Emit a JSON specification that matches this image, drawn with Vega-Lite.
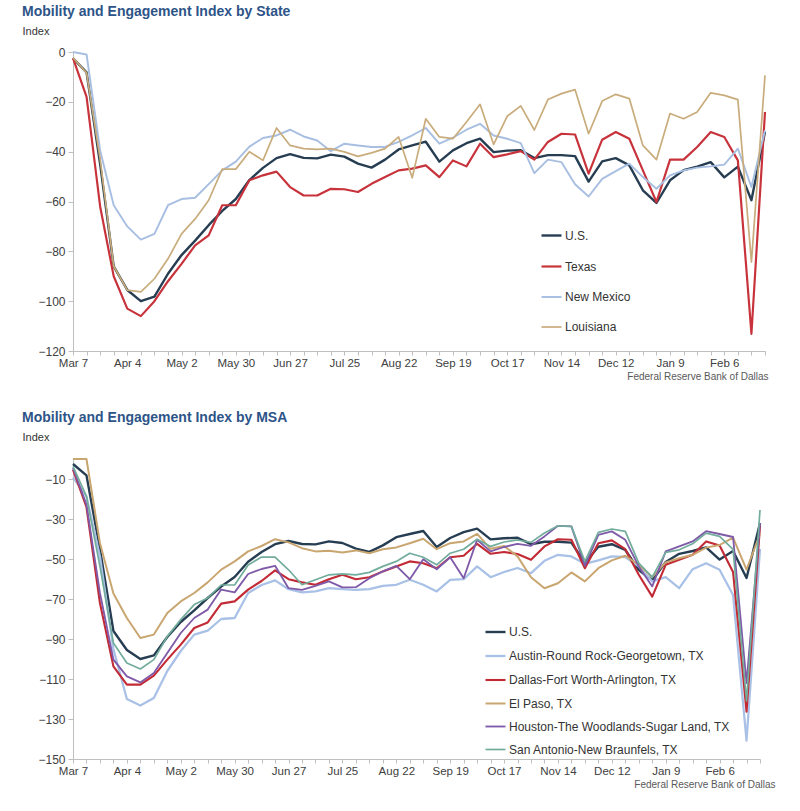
{
  "$schema": "https://vega.github.io/schema/vega-lite/v6.json",
  "background": "white",
  "padding": {"left": 22, "top": 5, "right": 5, "bottom": 5},
  "spacing": 29,
  "config": {
    "view": {"stroke": null},
    "font": "Liberation Sans",
    "axis": {
      "grid": false,
      "domainColor": "#BFBFBF",
      "tickColor": "#BFBFBF",
      "labelColor": "#404040",
      "labelFont": "Liberation Sans",
      "labelFontSize": 11.5,
      "titleFont": "Liberation Sans",
      "titleFontWeight": "normal"
    },
    "title": {"font": "Liberation Sans", "fontSize": 14, "fontWeight": "bold", "color": "#2D5488", "anchor": "start", "frame": "bounds", "offset": 6}
  },
  "resolve": {"scale": {"x": "independent", "y": "independent", "color": "independent", "strokeWidth": "independent"}, "legend": {"color": "independent"}},
  "datasets": {
    "state": [
      {"date": "2020-03-07", "US": -2.5, "Texas": -2.5, "New Mexico": 0, "Louisiana": -2.3},
      {"date": "2020-03-14", "US": -8.2, "Texas": -18, "New Mexico": -1, "Louisiana": -8.4},
      {"date": "2020-03-21", "US": -45, "Texas": -62, "New Mexico": -39.5, "Louisiana": -43},
      {"date": "2020-03-28", "US": -86, "Texas": -90, "New Mexico": -61.5, "Louisiana": -86},
      {"date": "2020-04-04", "US": -95.5, "Texas": -103, "New Mexico": -70, "Louisiana": -95.6},
      {"date": "2020-04-11", "US": -100, "Texas": -106, "New Mexico": -75.3, "Louisiana": -96.3},
      {"date": "2020-04-18", "US": -98.2, "Texas": -100, "New Mexico": -73, "Louisiana": -91},
      {"date": "2020-04-25", "US": -89, "Texas": -92, "New Mexico": -61.5, "Louisiana": -83},
      {"date": "2020-05-02", "US": -81.5, "Texas": -85, "New Mexico": -59, "Louisiana": -73},
      {"date": "2020-05-09", "US": -75.7, "Texas": -77.6, "New Mexico": -58.5, "Louisiana": -67},
      {"date": "2020-05-16", "US": -69.5, "Texas": -73.6, "New Mexico": -53, "Louisiana": -59.5},
      {"date": "2020-05-23", "US": -63.8, "Texas": -61.5, "New Mexico": -47.5, "Louisiana": -47},
      {"date": "2020-05-30", "US": -59, "Texas": -61.5, "New Mexico": -44, "Louisiana": -47},
      {"date": "2020-06-06", "US": -51.4, "Texas": -51.5, "New Mexico": -38, "Louisiana": -40},
      {"date": "2020-06-13", "US": -46.5, "Texas": -49.5, "New Mexico": -34.5, "Louisiana": -43.5},
      {"date": "2020-06-20", "US": -42.6, "Texas": -48, "New Mexico": -33.5, "Louisiana": -30.5},
      {"date": "2020-06-27", "US": -41, "Texas": -54.2, "New Mexico": -31.2, "Louisiana": -37.5},
      {"date": "2020-07-04", "US": -42.5, "Texas": -57.6, "New Mexico": -33.9, "Louisiana": -38.8},
      {"date": "2020-07-11", "US": -42.7, "Texas": -57.6, "New Mexico": -35.5, "Louisiana": -39.1},
      {"date": "2020-07-18", "US": -41.2, "Texas": -54.9, "New Mexico": -39.8, "Louisiana": -38.8},
      {"date": "2020-07-25", "US": -42, "Texas": -55.1, "New Mexico": -36.8, "Louisiana": -40.1},
      {"date": "2020-08-01", "US": -44.8, "Texas": -56.2, "New Mexico": -37.5, "Louisiana": -41.9},
      {"date": "2020-08-08", "US": -46.4, "Texas": -52.9, "New Mexico": -38.1, "Louisiana": -40.5},
      {"date": "2020-08-15", "US": -43.2, "Texas": -50.2, "New Mexico": -38.1, "Louisiana": -38.8},
      {"date": "2020-08-22", "US": -39.1, "Texas": -47.5, "New Mexico": -36.1, "Louisiana": -34.1},
      {"date": "2020-08-29", "US": -37.5, "Texas": -46.8, "New Mexico": -33.5, "Louisiana": -50.5},
      {"date": "2020-09-05", "US": -36, "Texas": -45.5, "New Mexico": -30.5, "Louisiana": -26.8},
      {"date": "2020-09-12", "US": -44, "Texas": -50.2, "New Mexico": -36.8, "Louisiana": -34.1},
      {"date": "2020-09-19", "US": -39.5, "Texas": -43.5, "New Mexico": -34.4, "Louisiana": -34.8},
      {"date": "2020-09-26", "US": -36.6, "Texas": -45.9, "New Mexico": -31.2, "Louisiana": -28.1},
      {"date": "2020-10-03", "US": -34.8, "Texas": -36.8, "New Mexico": -28.8, "Louisiana": -21},
      {"date": "2020-10-10", "US": -40.2, "Texas": -42.2, "New Mexico": -33.5, "Louisiana": -37.1},
      {"date": "2020-10-17", "US": -39.6, "Texas": -41.1, "New Mexico": -34.8, "Louisiana": -25.8},
      {"date": "2020-10-24", "US": -39.4, "Texas": -39.8, "New Mexico": -36.6, "Louisiana": -21.6},
      {"date": "2020-10-31", "US": -42.6, "Texas": -43.2, "New Mexico": -48.6, "Louisiana": -31.3},
      {"date": "2020-11-07", "US": -41.4, "Texas": -36.1, "New Mexico": -43.2, "Louisiana": -19.1},
      {"date": "2020-11-14", "US": -41.4, "Texas": -32.8, "New Mexico": -44.2, "Louisiana": -16.7},
      {"date": "2020-11-21", "US": -41.8, "Texas": -33.1, "New Mexico": -53.1, "Louisiana": -15.1},
      {"date": "2020-11-28", "US": -52, "Texas": -48.8, "New Mexico": -58, "Louisiana": -32.8},
      {"date": "2020-12-05", "US": -43.9, "Texas": -35.2, "New Mexico": -50.9, "Louisiana": -19.7},
      {"date": "2020-12-12", "US": -42.6, "Texas": -32.1, "New Mexico": -47.8, "Louisiana": -17},
      {"date": "2020-12-19", "US": -45.5, "Texas": -34.8, "New Mexico": -44.8, "Louisiana": -18.7},
      {"date": "2020-12-26", "US": -55.5, "Texas": -47.5, "New Mexico": -50.2, "Louisiana": -37.5},
      {"date": "2021-01-02", "US": -60.6, "Texas": -60.2, "New Mexico": -54.9, "Louisiana": -43.2},
      {"date": "2021-01-09", "US": -51.5, "Texas": -43.2, "New Mexico": -49.5, "Louisiana": -24.7},
      {"date": "2021-01-16", "US": -47.4, "Texas": -43.2, "New Mexico": -47.5, "Louisiana": -26.8},
      {"date": "2021-01-23", "US": -46, "Texas": -38.1, "New Mexico": -46.4, "Louisiana": -24.1},
      {"date": "2021-01-30", "US": -44.2, "Texas": -32.1, "New Mexico": -45.9, "Louisiana": -16.4},
      {"date": "2021-02-06", "US": -50.3, "Texas": -34.1, "New Mexico": -45.2, "Louisiana": -17.4},
      {"date": "2021-02-13", "US": -46, "Texas": -43.5, "New Mexico": -38.8, "Louisiana": -19.1},
      {"date": "2021-02-20", "US": -59.5, "Texas": -113.1, "New Mexico": -54.2, "Louisiana": -84.3},
      {"date": "2021-02-27", "US": -32, "Texas": -24.1, "New Mexico": -31.4, "Louisiana": -9.4}
    ],
    "msa": [
      {"date": "2020-03-07", "US": -2.5, "Austin-Round Rock-Georgetown, TX": -9.2, "Dallas-Fort Worth-Arlington, TX": -5.3, "El Paso, TX": 0, "Houston-The Woodlands-Sugar Land, TX": -4.5, "San Antonio-New Braunfels, TX": -3.7},
      {"date": "2020-03-14", "US": -8.2, "Austin-Round Rock-Georgetown, TX": -18.7, "Dallas-Fort Worth-Arlington, TX": -24, "El Paso, TX": 0, "Houston-The Woodlands-Sugar Land, TX": -22.8, "San Antonio-New Braunfels, TX": -18.7},
      {"date": "2020-03-21", "US": -45, "Austin-Round Rock-Georgetown, TX": -48.7, "Dallas-Fort Worth-Arlington, TX": -72, "El Paso, TX": -42, "Houston-The Woodlands-Sugar Land, TX": -67, "San Antonio-New Braunfels, TX": -53.7},
      {"date": "2020-03-28", "US": -86, "Austin-Round Rock-Georgetown, TX": -95, "Dallas-Fort Worth-Arlington, TX": -103.7, "El Paso, TX": -67.3, "Houston-The Woodlands-Sugar Land, TX": -100.3, "San Antonio-New Braunfels, TX": -92},
      {"date": "2020-04-04", "US": -95.5, "Austin-Round Rock-Georgetown, TX": -120, "Dallas-Fort Worth-Arlington, TX": -112.8, "El Paso, TX": -79.5, "Houston-The Woodlands-Sugar Land, TX": -108.7, "San Antonio-New Braunfels, TX": -102},
      {"date": "2020-04-11", "US": -100, "Austin-Round Rock-Georgetown, TX": -123.3, "Dallas-Fort Worth-Arlington, TX": -112.8, "El Paso, TX": -89.5, "Houston-The Woodlands-Sugar Land, TX": -111.7, "San Antonio-New Braunfels, TX": -105},
      {"date": "2020-04-18", "US": -98.2, "Austin-Round Rock-Georgetown, TX": -119.5, "Dallas-Fort Worth-Arlington, TX": -108.3, "El Paso, TX": -87.8, "Houston-The Woodlands-Sugar Land, TX": -107, "San Antonio-New Braunfels, TX": -100.3},
      {"date": "2020-04-25", "US": -89, "Austin-Round Rock-Georgetown, TX": -106, "Dallas-Fort Worth-Arlington, TX": -100.3, "El Paso, TX": -77, "Houston-The Woodlands-Sugar Land, TX": -97, "San Antonio-New Braunfels, TX": -88.7},
      {"date": "2020-05-02", "US": -81.5, "Austin-Round Rock-Georgetown, TX": -96, "Dallas-Fort Worth-Arlington, TX": -92.8, "El Paso, TX": -71.2, "Houston-The Woodlands-Sugar Land, TX": -87, "San Antonio-New Braunfels, TX": -80.3},
      {"date": "2020-05-09", "US": -75.7, "Austin-Round Rock-Georgetown, TX": -87.8, "Dallas-Fort Worth-Arlington, TX": -84.5, "El Paso, TX": -67, "Houston-The Woodlands-Sugar Land, TX": -79.5, "San Antonio-New Braunfels, TX": -72.8},
      {"date": "2020-05-16", "US": -69.5, "Austin-Round Rock-Georgetown, TX": -85.8, "Dallas-Fort Worth-Arlington, TX": -81.7, "El Paso, TX": -61.7, "Houston-The Woodlands-Sugar Land, TX": -75.3, "San Antonio-New Braunfels, TX": -69.5},
      {"date": "2020-05-23", "US": -63.8, "Austin-Round Rock-Georgetown, TX": -80, "Dallas-Fort Worth-Arlington, TX": -72.3, "El Paso, TX": -55.3, "Houston-The Woodlands-Sugar Land, TX": -65.3, "San Antonio-New Braunfels, TX": -63},
      {"date": "2020-05-30", "US": -59, "Austin-Round Rock-Georgetown, TX": -79.5, "Dallas-Fort Worth-Arlington, TX": -71.2, "El Paso, TX": -51.2, "Houston-The Woodlands-Sugar Land, TX": -66.7, "San Antonio-New Braunfels, TX": -63},
      {"date": "2020-06-06", "US": -51.4, "Austin-Round Rock-Georgetown, TX": -67, "Dallas-Fort Worth-Arlington, TX": -65.3, "El Paso, TX": -46.2, "Houston-The Woodlands-Sugar Land, TX": -57.5, "San Antonio-New Braunfels, TX": -53},
      {"date": "2020-06-13", "US": -46.5, "Austin-Round Rock-Georgetown, TX": -63, "Dallas-Fort Worth-Arlington, TX": -61, "El Paso, TX": -43.5, "Houston-The Woodlands-Sugar Land, TX": -55, "San Antonio-New Braunfels, TX": -49},
      {"date": "2020-06-20", "US": -42.6, "Austin-Round Rock-Georgetown, TX": -60.7, "Dallas-Fort Worth-Arlington, TX": -55.7, "El Paso, TX": -40.1, "Houston-The Woodlands-Sugar Land, TX": -53.4, "San Antonio-New Braunfels, TX": -49.1},
      {"date": "2020-06-27", "US": -41, "Austin-Round Rock-Georgetown, TX": -65.1, "Dallas-Fort Worth-Arlington, TX": -60.1, "El Paso, TX": -41.7, "Houston-The Woodlands-Sugar Land, TX": -64.6, "San Antonio-New Braunfels, TX": -55.4},
      {"date": "2020-07-04", "US": -42.5, "Austin-Round Rock-Georgetown, TX": -66.7, "Dallas-Fort Worth-Arlington, TX": -61.7, "El Paso, TX": -44.6, "Houston-The Woodlands-Sugar Land, TX": -65.4, "San Antonio-New Braunfels, TX": -62.9},
      {"date": "2020-07-11", "US": -42.7, "Austin-Round Rock-Georgetown, TX": -66.2, "Dallas-Fort Worth-Arlington, TX": -62.9, "El Paso, TX": -46.2, "Houston-The Woodlands-Sugar Land, TX": -63.4, "San Antonio-New Braunfels, TX": -60.4},
      {"date": "2020-07-18", "US": -41.2, "Austin-Round Rock-Georgetown, TX": -64.6, "Dallas-Fort Worth-Arlington, TX": -60.1, "El Paso, TX": -45.9, "Houston-The Woodlands-Sugar Land, TX": -61.2, "San Antonio-New Braunfels, TX": -57.9},
      {"date": "2020-07-25", "US": -42, "Austin-Round Rock-Georgetown, TX": -65.1, "Dallas-Fort Worth-Arlington, TX": -57.9, "El Paso, TX": -46.7, "Houston-The Woodlands-Sugar Land, TX": -64.2, "San Antonio-New Braunfels, TX": -57.4},
      {"date": "2020-08-01", "US": -44.8, "Austin-Round Rock-Georgetown, TX": -65.4, "Dallas-Fort Worth-Arlington, TX": -60.1, "El Paso, TX": -45.7, "Houston-The Woodlands-Sugar Land, TX": -64.1, "San Antonio-New Braunfels, TX": -57.9},
      {"date": "2020-08-08", "US": -46.4, "Austin-Round Rock-Georgetown, TX": -65.1, "Dallas-Fort Worth-Arlington, TX": -59.1, "El Paso, TX": -47.1, "Houston-The Woodlands-Sugar Land, TX": -59.6, "San Antonio-New Braunfels, TX": -56.7},
      {"date": "2020-08-15", "US": -43.2, "Austin-Round Rock-Georgetown, TX": -63.4, "Dallas-Fort Worth-Arlington, TX": -56.2, "El Paso, TX": -45.1, "Houston-The Woodlands-Sugar Land, TX": -56.2, "San Antonio-New Braunfels, TX": -53.7},
      {"date": "2020-08-22", "US": -39.1, "Austin-Round Rock-Georgetown, TX": -62.9, "Dallas-Fort Worth-Arlington, TX": -53.7, "El Paso, TX": -44.2, "Houston-The Woodlands-Sugar Land, TX": -53.4, "San Antonio-New Braunfels, TX": -51.2},
      {"date": "2020-08-29", "US": -37.5, "Austin-Round Rock-Georgetown, TX": -60.4, "Dallas-Fort Worth-Arlington, TX": -51.2, "El Paso, TX": -42.1, "Houston-The Woodlands-Sugar Land, TX": -60.1, "San Antonio-New Braunfels, TX": -47.1},
      {"date": "2020-09-05", "US": -36, "Austin-Round Rock-Georgetown, TX": -62.9, "Dallas-Fort Worth-Arlington, TX": -52.1, "El Paso, TX": -39.9, "Houston-The Woodlands-Sugar Land, TX": -50.1, "San Antonio-New Braunfels, TX": -49.1},
      {"date": "2020-09-12", "US": -44, "Austin-Round Rock-Georgetown, TX": -66.2, "Dallas-Fort Worth-Arlington, TX": -54.6, "El Paso, TX": -45.1, "Houston-The Woodlands-Sugar Land, TX": -55.1, "San Antonio-New Braunfels, TX": -52.9},
      {"date": "2020-09-19", "US": -39.5, "Austin-Round Rock-Georgetown, TX": -60.4, "Dallas-Fort Worth-Arlington, TX": -49.1, "El Paso, TX": -42.1, "Houston-The Woodlands-Sugar Land, TX": -49.1, "San Antonio-New Braunfels, TX": -47.1},
      {"date": "2020-09-26", "US": -36.6, "Austin-Round Rock-Georgetown, TX": -60.1, "Dallas-Fort Worth-Arlington, TX": -48.4, "El Paso, TX": -41.2, "Houston-The Woodlands-Sugar Land, TX": -59.6, "San Antonio-New Braunfels, TX": -45.1},
      {"date": "2020-10-03", "US": -34.8, "Austin-Round Rock-Georgetown, TX": -53.7, "Dallas-Fort Worth-Arlington, TX": -42.4, "El Paso, TX": -37.4, "Houston-The Woodlands-Sugar Land, TX": -40.4, "San Antonio-New Braunfels, TX": -40.1},
      {"date": "2020-10-10", "US": -40.2, "Austin-Round Rock-Georgetown, TX": -59.1, "Dallas-Fort Worth-Arlington, TX": -47.4, "El Paso, TX": -44.9, "Houston-The Woodlands-Sugar Land, TX": -46.2, "San Antonio-New Braunfels, TX": -43.7},
      {"date": "2020-10-17", "US": -39.6, "Austin-Round Rock-Georgetown, TX": -56.5, "Dallas-Fort Worth-Arlington, TX": -46.5, "El Paso, TX": -43.5, "Houston-The Woodlands-Sugar Land, TX": -44, "San Antonio-New Braunfels, TX": -41.5},
      {"date": "2020-10-24", "US": -39.4, "Austin-Round Rock-Georgetown, TX": -54.5, "Dallas-Fort Worth-Arlington, TX": -47.5, "El Paso, TX": -48.7, "Houston-The Woodlands-Sugar Land, TX": -42.4, "San Antonio-New Braunfels, TX": -40.5},
      {"date": "2020-10-31", "US": -42.6, "Austin-Round Rock-Georgetown, TX": -57.1, "Dallas-Fort Worth-Arlington, TX": -50.4, "El Paso, TX": -59.1, "Houston-The Woodlands-Sugar Land, TX": -43.4, "San Antonio-New Braunfels, TX": -41.7},
      {"date": "2020-11-07", "US": -41.4, "Austin-Round Rock-Georgetown, TX": -50.9, "Dallas-Fort Worth-Arlington, TX": -43.7, "El Paso, TX": -64.6, "Houston-The Woodlands-Sugar Land, TX": -38.7, "San Antonio-New Braunfels, TX": -37},
      {"date": "2020-11-14", "US": -41.4, "Austin-Round Rock-Georgetown, TX": -47.9, "Dallas-Fort Worth-Arlington, TX": -40.1, "El Paso, TX": -62.1, "Houston-The Woodlands-Sugar Land, TX": -33.4, "San Antonio-New Braunfels, TX": -33.4},
      {"date": "2020-11-21", "US": -41.8, "Austin-Round Rock-Georgetown, TX": -48.7, "Dallas-Fort Worth-Arlington, TX": -40.4, "El Paso, TX": -56.7, "Houston-The Woodlands-Sugar Land, TX": -33.7, "San Antonio-New Braunfels, TX": -33.7},
      {"date": "2020-11-28", "US": -52, "Austin-Round Rock-Georgetown, TX": -52.4, "Dallas-Fort Worth-Arlington, TX": -54.6, "El Paso, TX": -61.2, "Houston-The Woodlands-Sugar Land, TX": -53.4, "San Antonio-New Braunfels, TX": -51.2},
      {"date": "2020-12-05", "US": -43.9, "Austin-Round Rock-Georgetown, TX": -50.7, "Dallas-Fort Worth-Arlington, TX": -42.1, "El Paso, TX": -54.6, "Houston-The Woodlands-Sugar Land, TX": -37.9, "San Antonio-New Braunfels, TX": -36.7},
      {"date": "2020-12-12", "US": -42.6, "Austin-Round Rock-Georgetown, TX": -48.7, "Dallas-Fort Worth-Arlington, TX": -40.7, "El Paso, TX": -50.7, "Houston-The Woodlands-Sugar Land, TX": -36.2, "San Antonio-New Braunfels, TX": -35},
      {"date": "2020-12-19", "US": -45.5, "Austin-Round Rock-Georgetown, TX": -49, "Dallas-Fort Worth-Arlington, TX": -45.1, "El Paso, TX": -48.4, "Houston-The Woodlands-Sugar Land, TX": -40.4, "San Antonio-New Braunfels, TX": -36.2},
      {"date": "2020-12-26", "US": -55.5, "Austin-Round Rock-Georgetown, TX": -53.7, "Dallas-Fort Worth-Arlington, TX": -57.9, "El Paso, TX": -52.9, "Houston-The Woodlands-Sugar Land, TX": -53.7, "San Antonio-New Braunfels, TX": -52.1},
      {"date": "2021-01-02", "US": -60.6, "Austin-Round Rock-Georgetown, TX": -61.2, "Dallas-Fort Worth-Arlington, TX": -68.8, "El Paso, TX": -59.1, "Houston-The Woodlands-Sugar Land, TX": -63.7, "San Antonio-New Braunfels, TX": -59.1},
      {"date": "2021-01-09", "US": -51.5, "Austin-Round Rock-Georgetown, TX": -59.1, "Dallas-Fort Worth-Arlington, TX": -52.9, "El Paso, TX": -51.7, "Houston-The Woodlands-Sugar Land, TX": -46.2, "San Antonio-New Braunfels, TX": -46.7},
      {"date": "2021-01-16", "US": -47.4, "Austin-Round Rock-Georgetown, TX": -64.6, "Dallas-Fort Worth-Arlington, TX": -50.4, "El Paso, TX": -49.6, "Houston-The Woodlands-Sugar Land, TX": -43.7, "San Antonio-New Braunfels, TX": -45.4},
      {"date": "2021-01-23", "US": -46, "Austin-Round Rock-Georgetown, TX": -55.1, "Dallas-Fort Worth-Arlington, TX": -47.9, "El Paso, TX": -47.9, "Houston-The Woodlands-Sugar Land, TX": -41.2, "San Antonio-New Braunfels, TX": -42.4},
      {"date": "2021-01-30", "US": -44.2, "Austin-Round Rock-Georgetown, TX": -52.1, "Dallas-Fort Worth-Arlington, TX": -41.2, "El Paso, TX": -44.3, "Houston-The Woodlands-Sugar Land, TX": -36.1, "San Antonio-New Braunfels, TX": -37.1},
      {"date": "2021-02-06", "US": -50.3, "Austin-Round Rock-Georgetown, TX": -55.4, "Dallas-Fort Worth-Arlington, TX": -43.3, "El Paso, TX": -43, "Houston-The Woodlands-Sugar Land, TX": -37.5, "San Antonio-New Braunfels, TX": -38.7},
      {"date": "2021-02-13", "US": -46, "Austin-Round Rock-Georgetown, TX": -68, "Dallas-Fort Worth-Arlington, TX": -56.5, "El Paso, TX": -39.3, "Houston-The Woodlands-Sugar Land, TX": -39, "San Antonio-New Braunfels, TX": -45.2},
      {"date": "2021-02-20", "US": -59.5, "Austin-Round Rock-Georgetown, TX": -140.8, "Dallas-Fort Worth-Arlington, TX": -126.3, "El Paso, TX": -55.3, "Houston-The Woodlands-Sugar Land, TX": -112, "San Antonio-New Braunfels, TX": -121},
      {"date": "2021-02-27", "US": -32, "Austin-Round Rock-Georgetown, TX": -45, "Dallas-Fort Worth-Arlington, TX": -33.5, "El Paso, TX": -37.5, "Houston-The Woodlands-Sugar Land, TX": -32, "San Antonio-New Braunfels, TX": -25.5}
    ]
  },
  "vconcat": [
    {
      "title": {"text": "Mobility and Engagement Index by State"},
      "width": 692,
      "height": 299,
      "data": {"name": "state"},
      "transform": [{"fold": ["US", "Texas", "New Mexico", "Louisiana"], "as": ["series", "value"]}],
      "mark": {"type": "line", "strokeJoin": "round"},
      "encoding": {
        "x": {
          "field": "date", "type": "temporal",
          "scale": {"type": "utc", "domain": [1583539200000, 1614384000000]},
          "axis": {
            "values": [1583539200000, 1584144000000, 1584748800000, 1585353600000, 1585958400000, 1586563200000, 1587168000000, 1587772800000, 1588377600000, 1588982400000, 1589587200000, 1590192000000, 1590796800000, 1591401600000, 1592006400000, 1592611200000, 1593216000000, 1593820800000, 1594425600000, 1595030400000, 1595635200000, 1596240000000, 1596844800000, 1597449600000, 1598054400000, 1598659200000, 1599264000000, 1599868800000, 1600473600000, 1601078400000, 1601683200000, 1602288000000, 1602892800000, 1603497600000, 1604102400000, 1604707200000, 1605312000000, 1605916800000, 1606521600000, 1607126400000, 1607731200000, 1608336000000, 1608940800000, 1609545600000, 1610150400000, 1610755200000, 1611360000000, 1611964800000, 1612569600000, 1613174400000, 1613779200000, 1614384000000],
            "labelExpr": "(round((time(datum.value) - 1583539200000) / 604800000) % 4 == 0) ? utcFormat(datum.value, '%b %-d') : ''",
            "labelOverlap": false,
            "labelFlush": false,
            "tickSize": 4,
            "labelPadding": 2,
            "title": "Federal Reserve Bank of Dallas",
            "titleAnchor": "end",
            "titleAlign": "right",
            "titleX": 695,
            "titleFontSize": 10,
            "titleColor": "#595959",
            "titlePadding": 3
          }
        },
        "y": {
          "field": "value", "type": "quantitative",
          "scale": {"domain": [-120, 0], "nice": false, "zero": false},
          "axis": {
            "values": [-120, -100, -80, -60, -40, -20, 0],
            "tickSize": 5,
            "labelPadding": 3,
            "labelFontSize": 12,
            "title": "Index",
            "titleAngle": 0,
            "titleAlign": "left",
            "titleBaseline": "middle",
            "titleX": -51,
            "titleY": -21,
            "titleFontSize": 11,
            "titleColor": "#333333"
          }
        },
        "color": {
          "field": "series", "type": "nominal",
          "scale": {"domain": ["US", "Texas", "New Mexico", "Louisiana"], "range": ["#263D52", "#C7323B", "#A8BFE2", "#C9AC7C"]},
          "legend": {
            "orient": "none", "legendX": 467, "legendY": 172, "title": null, "padding": 0,
            "symbolType": "stroke", "symbolSize": 400, "symbolStrokeWidth": 2,
            "labelFontSize": 12, "labelColor": "#333333", "labelOffset": 2, "rowPadding": 13,
            "labelExpr": "datum.label == 'US' ? 'U.S.' : datum.label"
          }
        },
        "strokeWidth": {
          "field": "series", "type": "nominal",
          "scale": {"domain": ["US", "Texas", "New Mexico", "Louisiana"], "range": [2.4, 1.7, 1.7, 1.7]},
          "legend": null
        }
      }
    },
    {
      "title": {"text": "Mobility and Engagement Index by MSA"},
      "width": 687,
      "height": 300,
      "data": {"name": "msa"},
      "transform": [{"fold": ["US", "Austin-Round Rock-Georgetown, TX", "Dallas-Fort Worth-Arlington, TX", "El Paso, TX", "Houston-The Woodlands-Sugar Land, TX", "San Antonio-New Braunfels, TX"], "as": ["series", "value"]}],
      "mark": {"type": "line", "strokeJoin": "round"},
      "encoding": {
        "x": {
          "field": "date", "type": "temporal",
          "scale": {"type": "utc", "domain": [1583539200000, 1614384000000]},
          "axis": {
            "values": [1583539200000, 1584144000000, 1584748800000, 1585353600000, 1585958400000, 1586563200000, 1587168000000, 1587772800000, 1588377600000, 1588982400000, 1589587200000, 1590192000000, 1590796800000, 1591401600000, 1592006400000, 1592611200000, 1593216000000, 1593820800000, 1594425600000, 1595030400000, 1595635200000, 1596240000000, 1596844800000, 1597449600000, 1598054400000, 1598659200000, 1599264000000, 1599868800000, 1600473600000, 1601078400000, 1601683200000, 1602288000000, 1602892800000, 1603497600000, 1604102400000, 1604707200000, 1605312000000, 1605916800000, 1606521600000, 1607126400000, 1607731200000, 1608336000000, 1608940800000, 1609545600000, 1610150400000, 1610755200000, 1611360000000, 1611964800000, 1612569600000, 1613174400000, 1613779200000, 1614384000000],
            "labelExpr": "(round((time(datum.value) - 1583539200000) / 604800000) % 4 == 0) ? utcFormat(datum.value, '%b %-d') : ''",
            "labelOverlap": false,
            "labelFlush": false,
            "tickSize": 4,
            "labelPadding": 2,
            "title": "Federal Reserve Bank of Dallas",
            "titleAnchor": "end",
            "titleAlign": "right",
            "titleX": 702,
            "titleFontSize": 10,
            "titleColor": "#595959",
            "titlePadding": 3
          }
        },
        "y": {
          "field": "value", "type": "quantitative",
          "scale": {"domain": [-150, 0], "nice": false, "zero": false},
          "axis": {
            "values": [-150, -130, -110, -90, -70, -50, -30, -10],
            "tickSize": 5,
            "labelPadding": 3,
            "labelFontSize": 12,
            "title": "Index",
            "titleAngle": 0,
            "titleAlign": "left",
            "titleBaseline": "middle",
            "titleX": -51,
            "titleY": -22,
            "titleFontSize": 11,
            "titleColor": "#333333"
          }
        },
        "color": {
          "field": "series", "type": "nominal",
          "scale": {"domain": ["US", "Austin-Round Rock-Georgetown, TX", "Dallas-Fort Worth-Arlington, TX", "El Paso, TX", "Houston-The Woodlands-Sugar Land, TX", "San Antonio-New Braunfels, TX"], "range": ["#263D52", "#A9C1E6", "#C22B35", "#C9A56F", "#7E5AA8", "#72AC9C"]},
          "legend": {
            "orient": "none", "legendX": 411, "legendY": 161.5, "title": null, "padding": 0,
            "symbolType": "stroke", "symbolSize": 400, "symbolStrokeWidth": 2,
            "labelFontSize": 12, "labelColor": "#333333", "labelOffset": 2, "rowPadding": 6,
            "labelLimit": 400,
            "labelExpr": "datum.label == 'US' ? 'U.S.' : datum.label"
          }
        },
        "strokeWidth": {
          "field": "series", "type": "nominal",
          "scale": {"domain": ["US", "Austin-Round Rock-Georgetown, TX", "Dallas-Fort Worth-Arlington, TX", "El Paso, TX", "Houston-The Woodlands-Sugar Land, TX", "San Antonio-New Braunfels, TX"], "range": [2.4, 1.7, 1.7, 1.7, 1.7, 1.7]},
          "legend": null
        }
      }
    }
  ]
}
